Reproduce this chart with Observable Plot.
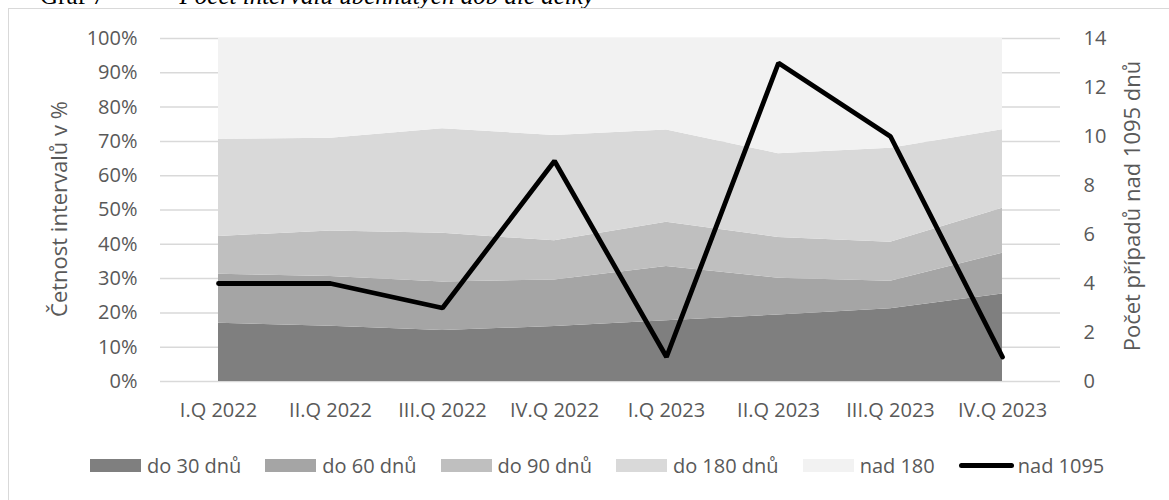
<!DOCTYPE html>
<html>
<head>
<meta charset="utf-8">
<script src="https://cdn.jsdelivr.net/npm/d3@7"></script>
<script src="https://cdn.jsdelivr.net/npm/@observablehq/plot@0.6"></script>
<style>
  html, body { margin: 0; padding: 0; background: #fff; }
  #wrap { position: relative; width: 1169px; height: 500px; overflow: hidden; font-family: "Open Sans", sans-serif; color: #595959; }
  #title { position: absolute; left: 40px; top: -16px; font-family: "Liberation Serif", serif; font-size: 25px; line-height: 24px; color: #000; white-space: pre; }
  #title i { font-style: italic; }
  #frame { position: absolute; left: 8px; top: 8px; width: 1300px; height: 600px; border: 1.5px solid #d9d9d9; box-sizing: border-box; }
  #chart { position: absolute; left: 0; top: 0; }
  .ytitle { position: absolute; width: 400px; height: 30px; line-height: 30px; text-align: center; font-size: 22px; white-space: nowrap; transform: translate(-50%, -50%) rotate(-90deg); }
  #legend { position: absolute; left: 90px; top: 452px; display: flex; align-items: center; font-size: 20px; white-space: nowrap; }
  .item { display: flex; align-items: center; margin-right: 24px; }
  .sw { width: 51px; height: 13px; margin-right: 6px; }
  .ln { width: 55px; height: 5px; border-radius: 3px; background: #000; margin-right: 4px; }
</style>
</head>
<body>
<div id="wrap">
  <div id="title">Graf 7            <i>Počet intervalů uběhnutých dob dle délky</i></div>
  <div id="frame"></div>
  <div id="chart"></div>
  <div class="ytitle" id="yl" style="left:58px; top:209px;"></div>
  <div class="ytitle" id="yr" style="left:1131px; top:206px;"></div>
  <div id="legend"></div>
</div>
<script>
const quarters = ["I.Q 2022","II.Q 2022","III.Q 2022","IV.Q 2022","I.Q 2023","II.Q 2023","III.Q 2023","IV.Q 2023"];
const seriesNames = ["do 30 dnů","do 60 dnů","do 90 dnů","do 180 dnů","nad 180"];
const seriesColors = ["#7f7f7f","#a5a5a5","#bfbfbf","#d9d9d9","#f2f2f2"];
const do30 = [17.0,16.1,14.9,16.0,17.7,19.4,21.2,25.5];
const do60 = [14.3,14.5,14.1,13.6,15.8,10.7,8.0,11.9];
const do90 = [11.0,13.3,14.2,11.4,12.9,11.9,11.4,13.1];
const do180 = [28.3,27.0,30.5,30.7,26.9,24.4,27.4,22.9];
const nad180 = [29.4,29.1,26.3,28.3,26.7,33.6,32.0,26.6];
const lineName = "nad 1095";
const nad1095 = [4,4,3,9,1,13,10,1];
const leftTicks = [0,10,20,30,40,50,60,70,80,90,100];
const rightTicks = [0,2,4,6,8,10,12,14];
const rightMax = 14;
const leftTitle = "Četnost intervalů v %";
const rightTitle = "Počet případů nad 1095 dnů";

const seriesValues = [do30, do60, do90, do180, nad180];
const rows = [];
seriesNames.forEach((s, i) => quarters.forEach((q, j) => rows.push({s, q, v: seriesValues[i][j]})));
const lineRows = quarters.map((q, j) => ({q, n: nad1095[j]}));

const chart = Plot.plot({
  width: 1169,
  height: 440,
  marginLeft: 160,
  marginRight: 109,
  marginTop: 38,
  marginBottom: 59,
  style: {fontFamily: "'Open Sans', sans-serif", fontSize: "20px", color: "#595959", background: "transparent", overflow: "visible"},
  x: {type: "point", domain: quarters, padding: 0.5},
  y: {domain: [0, 100]},
  color: {domain: seriesNames, range: seriesColors},
  marks: [
    Plot.gridY(leftTicks, {stroke: "#d9d9d9", strokeOpacity: 1, strokeWidth: 1.5}),
    Plot.areaY(rows, {x: "q", y: "v", z: "s", fill: "s", order: seriesNames}),
    Plot.line(lineRows, {x: "q", y: d => d.n * 100 / rightMax, stroke: "#000", strokeWidth: 4.8, strokeLinecap: "round", strokeLinejoin: "miter"}),
    Plot.axisX({tickSize: 0, tickPadding: 21, label: null, fontSize: 20}),
    Plot.axisY(leftTicks, {anchor: "left", tickSize: 0, tickPadding: 23, tickFormat: d => d + "%", label: null, fontSize: 20}),
    Plot.axisY(rightTicks.map(v => v * 100 / rightMax), {anchor: "right", tickSize: 0, tickPadding: 23,
      tickFormat: d => String(Math.round(d * rightMax / 100)), label: null, fontSize: 20})
  ]
});
document.getElementById("chart").appendChild(chart);
document.getElementById("yl").textContent = leftTitle;
document.getElementById("yr").textContent = rightTitle;

const legend = document.getElementById("legend");
seriesNames.forEach((s, i) => {
  const it = document.createElement("div");
  it.className = "item";
  const sw = document.createElement("div");
  sw.className = "sw";
  sw.style.background = seriesColors[i];
  const t = document.createElement("span");
  t.textContent = s;
  it.appendChild(sw); it.appendChild(t);
  legend.appendChild(it);
});
const it = document.createElement("div");
it.className = "item";
const ln = document.createElement("div");
ln.className = "ln";
const t = document.createElement("span");
t.textContent = lineName;
it.appendChild(ln); it.appendChild(t);
legend.appendChild(it);
</script>
</body>
</html>
